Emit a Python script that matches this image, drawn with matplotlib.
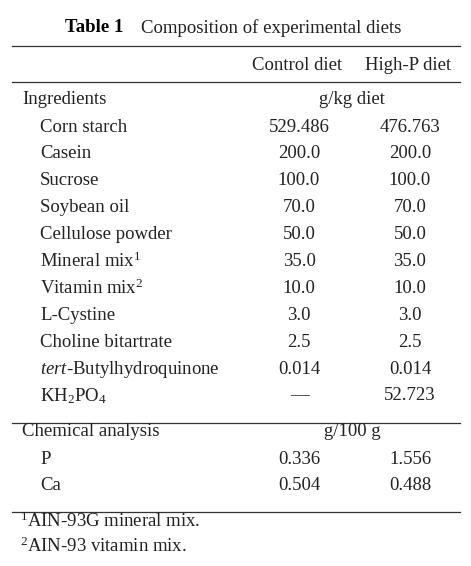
import matplotlib
matplotlib.use("Agg")
import matplotlib.pyplot as plt

ingredients = ["Corn starch", "Casein", "Sucrose", "Soybean oil", "Cellulose powder",
               "Mineral mix$^{1}$", "Vitamin mix$^{2}$", "L-Cystine", "Choline bitartrate",
               "$\\it{tert}$-Butylhydroquinone", "KH$_{2}$PO$_{4}$"]
control_ing = ["529.486", "200.0", "100.0", "70.0", "50.0", "35.0", "10.0", "3.0", "2.5", "0.014", "—"]
highp_ing = ["476.763", "200.0", "100.0", "70.0", "50.0", "35.0", "10.0", "3.0", "2.5", "0.014", "52.723"]
chem = ["P", "Ca"]
control_chem = ["0.336", "0.504"]
highp_chem = ["1.556", "0.488"]
footnotes = ["$^{1}$AIN-93G mineral mix.", "$^{2}$AIN-93 vitamin mix."]

W, H = 471, 566
fig = plt.figure(figsize=(W/100, H/100), dpi=100)
ax = fig.add_axes([0, 0, 1, 1])
ax.set_xlim(0, W); ax.set_ylim(H, 0); ax.axis("off")
plt.rcParams["mathtext.fontset"] = "custom"
plt.rcParams["mathtext.rm"] = "Liberation Serif"
plt.rcParams["mathtext.it"] = "Liberation Serif:italic"
fam = "Liberation Serif"
fs = 13.5

def t(x, y, s, ha="left", **kw):
    ax.text(x, y, s, ha=ha, va="center", family=fam, fontsize=fs, color="#222222", **kw)

ax.text(123, 28, "Table 1", ha="right", va="center", family=fam, fontsize=fs, weight="bold")
t(141, 28, "Composition of experimental diets")
for y in [46, 82, 423, 512]:
    ax.plot([12, 460], [y, y], color="#333333", lw=0.9)
c1, c2 = 299, 410
t(c1 - 2, 65, "Control diet", ha="center")
t(c2 - 2, 65, "High-P diet", ha="center")
t(22, 100, "Ingredients")
t(352, 100, "g/kg diet", ha="center")
y0, dy = 127, 26.9
for i, (n, a, b) in enumerate(zip(ingredients, control_ing, highp_ing)):
    y = y0 + i*dy
    t(40, y, n); t(c1, y, a, ha="center"); t(c2, y, b, ha="center")
t(22, 432, "Chemical analysis")
t(352, 432, "g/100 g", ha="center")
for i, (n, a, b) in enumerate(zip(chem, control_chem, highp_chem)):
    y = 459 + i*dy
    t(40, y, n); t(c1, y, a, ha="center"); t(c2, y, b, ha="center")
for i, f in enumerate(footnotes):
    t(20, 521 + i*25, f)
fig.savefig("out.png", dpi=100, facecolor="white")
